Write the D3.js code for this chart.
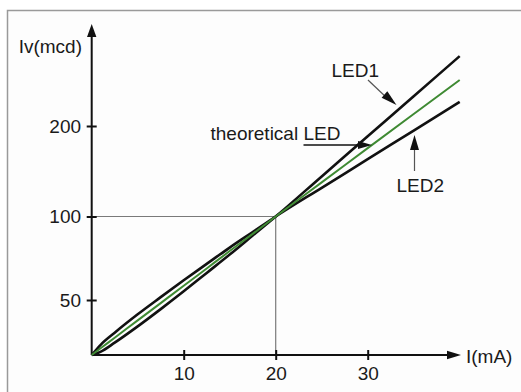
<!DOCTYPE html>
<html>
<head>
<meta charset="utf-8">
<script src="https://cdn.jsdelivr.net/npm/d3@7"></script>
<style>
  body { margin: 0; background: #fff; }
  svg { display: block; }
  text { font-family: "Liberation Sans", Arial, Helvetica, sans-serif; fill: #1a1a1a; }
</style>
</head>
<body>
<svg id="chart" width="521" height="392"></svg>
<script>
// Forward current (mA) and luminous intensity (mcd) of two LEDs against the ideal response
const currentTicks = [10, 20, 30];
const intensityTicks = [50, 100, 200];
const current     = [0, 1, 2.5, 5, 7.5, 10, 12.5, 15, 17.5, 20, 25, 30, 35, 40];
const theoretical = [0, 6.3, 15.7, 31.5, 47.2, 58.5, 68.9, 79.3, 89.6, 100, 137.7, 175.5, 213.2, 250.8];
const led1        = [0, 3.1, 11.2, 26.0, 41.7, 55.2, 66.2, 77.2, 88.6, 100, 144.3, 188.6, 232.9, 277.2];
const led2        = [0, 9.5, 20.3, 37.0, 51.7, 61.8, 71.6, 81.4, 90.7, 100, 131.7, 163.3, 195.0, 226.6];
const refPoint = { i: 20, iv: 100 };

const svg = d3.select("#chart");
const FONT = 19;

// frame (open towards the right and bottom edges)
svg.append("rect")
  .attr("x", 7.5).attr("y", 10.5)
  .attr("width", 620).attr("height", 500)
  .attr("fill", "#fdfdfd")
  .attr("stroke", "#9a9a9a").attr("stroke-width", 1.5);

const x = d3.scaleLinear().domain([0, 10]).range([91.7, 183.7]);
// the intensity axis is drawn with uneven spacing between its ticks
const y = d3.scaleLinear().domain([0, 50, 100, 200]).range([355, 300, 216.5, 126]);

const x0 = x(0), y0 = y(0);
const xTip = 461, yTip = 24;

// reference lines to the 20 mA / 100 mcd operating point
const ref = svg.append("g").attr("stroke", "#7a7a7a").attr("stroke-width", 1.2).attr("fill", "none");
ref.append("line").attr("x1", x0).attr("x2", x(refPoint.i)).attr("y1", y(refPoint.iv)).attr("y2", y(refPoint.iv));
ref.append("line").attr("x1", x(refPoint.i)).attr("x2", x(refPoint.i)).attr("y1", y(refPoint.iv)).attr("y2", y0);

// axes
const xAxis = d3.axisBottom(x).tickValues(currentTicks).tickSize(5).tickPadding(6.5).tickFormat(d3.format("d"));
const gx = svg.append("g").attr("transform", `translate(0,${y0})`).call(xAxis);
const yAxis = d3.axisLeft(y).tickValues(intensityTicks).tickSize(5).tickPadding(5.7).tickFormat(d3.format("d"));
const gy = svg.append("g").attr("transform", `translate(${x0},0)`).call(yAxis);

[gx, gy].forEach(g => {
  g.select(".domain").remove();
  g.attr("font-size", null).attr("font-family", null);
  g.selectAll(".tick line").attr("stroke", "#111").attr("stroke-width", 2);
  g.selectAll(".tick text").attr("font-size", FONT).attr("fill", "#1a1a1a");
});
gx.selectAll(".tick line").attr("y1", -5).attr("y2", 5);
gy.selectAll(".tick line").attr("x1", -5).attr("x2", 5);

const axisLines = svg.append("g").attr("stroke", "#111").attr("stroke-width", 2);
axisLines.append("line").attr("x1", x0).attr("x2", xTip - 10).attr("y1", y0).attr("y2", y0);
axisLines.append("line").attr("x1", x0).attr("x2", x0).attr("y1", y0).attr("y2", yTip + 10);
svg.append("path").attr("fill", "#111")
  .attr("d", `M${xTip},${y0} L${xTip - 14},${y0 - 4.3} L${xTip - 14},${y0 + 4.3} Z`);
svg.append("path").attr("fill", "#111")
  .attr("d", `M${x0},${yTip} L${x0 - 4.7},${yTip + 13} L${x0 + 4.7},${yTip + 13} Z`);

svg.append("text").attr("x", 82).attr("y", 53).attr("text-anchor", "end")
  .attr("font-size", FONT).text("Iv(mcd)");
svg.append("text").attr("x", 466).attr("y", 362.5)
  .attr("font-size", FONT).text("I(mA)");

// curves
const line = d3.line()
  .x((d, i) => x(current[i]))
  .y(d => y(d))
  .curve(d3.curveMonotoneX);

svg.append("path").datum(led1).attr("d", line)
  .attr("fill", "none").attr("stroke", "#111").attr("stroke-width", 2.6);
svg.append("path").datum(led2).attr("d", line)
  .attr("fill", "none").attr("stroke", "#111").attr("stroke-width", 2.6);
svg.append("path").datum(theoretical).attr("d", line)
  .attr("fill", "none").attr("stroke", "#3f8a33").attr("stroke-width", 2);

// annotations
function arrowHead(tx, ty, fromX, fromY, len, half) {
  const a = Math.atan2(ty - fromY, tx - fromX);
  const bx = tx - len * Math.cos(a), by = ty - len * Math.sin(a);
  const px = -Math.sin(a) * half, py = Math.cos(a) * half;
  svg.append("path").attr("fill", "#111")
    .attr("d", `M${tx},${ty} L${bx + px},${by + py} L${bx - px},${by - py} Z`);
}

svg.append("text").attr("x", 331.5).attr("y", 76.5).attr("font-size", FONT).text("LED1");
svg.append("line").attr("x1", 368).attr("y1", 80).attr("x2", 388).attr("y2", 99)
  .attr("stroke", "#555").attr("stroke-width", 1.2);
arrowHead(396.5, 105, 368, 80, 16, 4.3);

svg.append("text").attr("x", 210.5).attr("y", 140).attr("font-size", FONT).text("theoretical LED");
svg.append("line").attr("x1", 303.5).attr("y1", 145).attr("x2", 362).attr("y2", 145)
  .attr("stroke", "#111").attr("stroke-width", 1.5);
arrowHead(372, 145, 303.5, 145, 14, 4);

svg.append("text").attr("x", 396.5).attr("y", 191.5).attr("font-size", FONT).text("LED2");
svg.append("line").attr("x1", 414.5).attr("y1", 171).attr("x2", 414.5).attr("y2", 145)
  .attr("stroke", "#555").attr("stroke-width", 1.2);
arrowHead(414.5, 135, 414.5, 171, 15, 4.5);
</script>
</body>
</html>
